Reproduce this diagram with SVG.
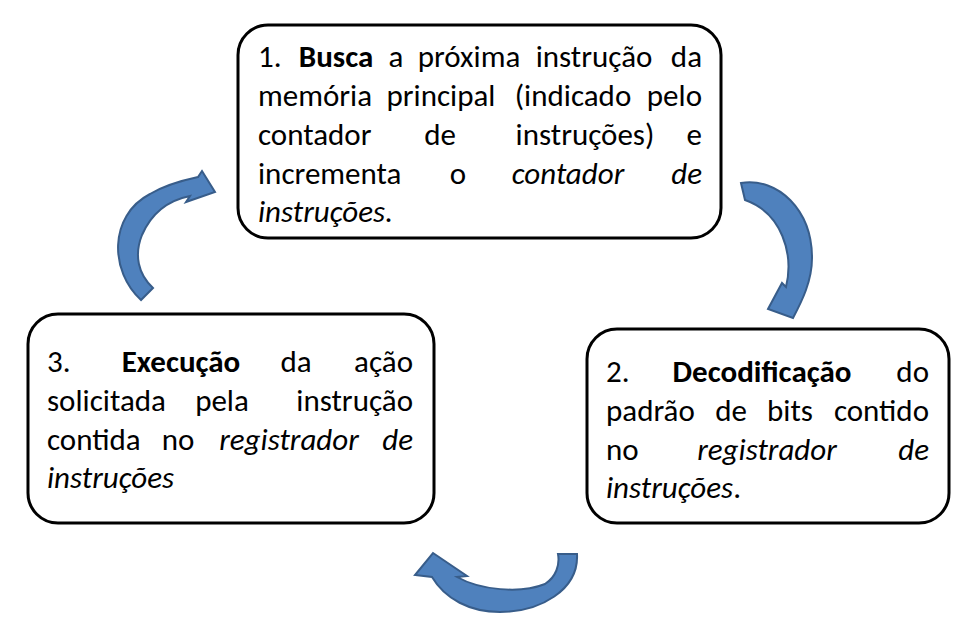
<svg xmlns="http://www.w3.org/2000/svg" width="960" height="628" viewBox="0 0 960 628">
<style>
.box{fill:#fff;stroke:#000;stroke-width:3}
.arr{fill:#4F81BD;stroke:#385D8A;stroke-width:2;stroke-linejoin:miter}
text{font-family:Carlito,Lato,"Liberation Sans",sans-serif;font-size:31px;fill:#000}
.b{font-weight:bold}
.i{font-style:italic}
.m{text-anchor:middle}
.e{text-anchor:end}
</style>
<rect width="960" height="628" fill="#fff"/>
<g id="connectors">
<path class="arr" d="M 153 288 L 141 300 C 110 272 108 216 150 194 C 165 185 184 180 198 177 L 202 171 L 215 192 L 186 202 L 190 196 C 170 200 152 212 142 235 C 134 255 138 274 153 288 Z"/>
<path class="arr" d="M 741 183 C 778 177 812 210 812 258 C 812 281 802 301 793 318 L 768 309 L 782 283 L 786 287 C 794 254 782 213 745 200 Z"/>
<path class="arr" d="M 558 554 L 577 554 C 579 590 540 612 500 612 C 470 612 445 599 432 577 L 415 575 L 433 553 L 467 576 L 457 577 C 480 590 520 594 545 584 C 556 577 560 565 558 554 Z"/>
</g>
<g id="node1">
<rect class="box" x="238" y="25" width="483" height="213" rx="30"/>
<text x="258" y="67">1.</text>
<text class="b m" x="336" y="67">Busca</text>
<text class="m" x="396" y="67">a</text>
<text class="m" x="469" y="67">próxima</text>
<text class="m" x="594" y="67">instrução</text>
<text class="e" x="702" y="67">da</text>
<text x="258" y="106">memória</text>
<text class="m" x="441" y="106">principal</text>
<text class="m" x="573" y="106">(indicado</text>
<text class="e" x="702" y="106">pelo</text>
<text x="258" y="145">contador</text>
<text class="m" x="440" y="145">de</text>
<text class="m" x="585" y="145">instruções)</text>
<text class="e" x="702" y="145">e</text>
<text x="258" y="184">incrementa</text>
<text class="m" x="458" y="184">o</text>
<text class="i m" x="568" y="184">contador</text>
<text class="i e" x="702" y="184">de</text>
<text class="i" x="258" y="222">instruções.</text>
</g>
<g id="node2">
<rect class="box" x="587" y="329" width="362" height="194" rx="30"/>
<text x="606" y="382">2.</text>
<text class="b m" x="762" y="382">Decodificação</text>
<text class="e" x="929" y="382">do</text>
<text x="606" y="421">padrão</text>
<text class="m" x="731" y="421">de</text>
<text class="m" x="790" y="421">bits</text>
<text class="e" x="929" y="421">contido</text>
<text x="606" y="460">no</text>
<text class="i m" x="767" y="460">registrador</text>
<text class="i e" x="929" y="460">de</text>
<text x="606" y="498"><tspan class="i">instruções</tspan>.</text>
</g>
<g id="node3">
<rect class="box" x="28" y="314" width="406" height="209" rx="30"/>
<text x="47" y="372">3.</text>
<text class="b m" x="181" y="372">Execução</text>
<text class="m" x="296" y="372">da</text>
<text class="e" x="413" y="372">ação</text>
<text x="47" y="411">solicitada</text>
<text class="m" x="222" y="411">pela</text>
<text class="e" x="413" y="411">instrução</text>
<text x="47" y="450">contida</text>
<text class="m" x="178" y="450">no</text>
<text class="i m" x="289" y="450">registrador</text>
<text class="i e" x="413" y="450">de</text>
<text class="i" x="47" y="488">instruções</text>
</g>
</svg>
